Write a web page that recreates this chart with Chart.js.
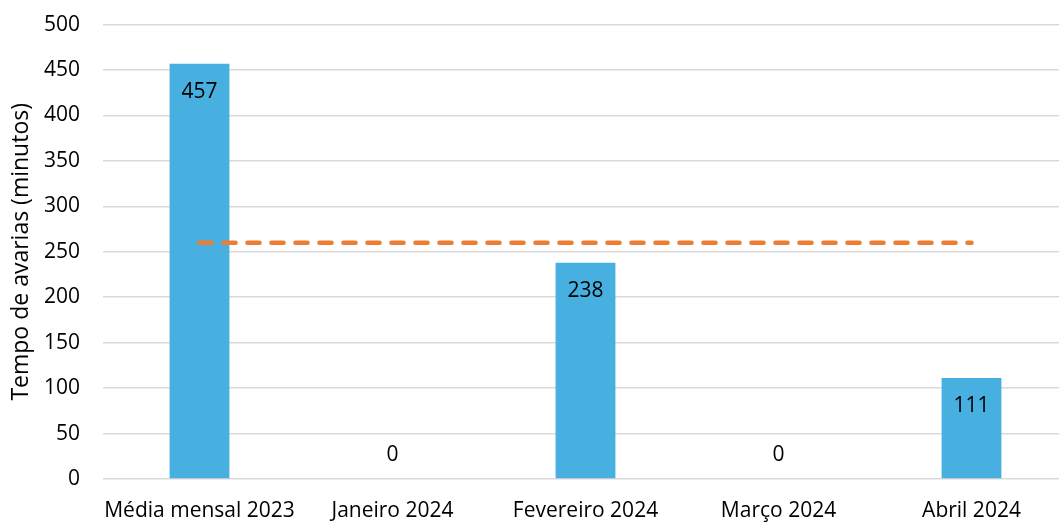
<!DOCTYPE html>
<html>
<head>
<meta charset="utf-8">
<script src="https://cdn.jsdelivr.net/npm/chart.js@4.4.1/dist/chart.umd.min.js"></script>
<style>
  body { margin: 0; overflow: hidden; background: #fff; }
  #wrap { width: 1072px; height: 533px; margin-top: -11px; }
</style>
</head>
<body>
<div id="wrap"><canvas id="myChart"></canvas></div>
<script>
const categories = ["Média mensal 2023", "Janeiro 2024", "Fevereiro 2024", "Março 2024", "Abril 2024"];
const tempo = [457, 0, 238, 0, 111];
const meta = [260, 260, 260, 260, 260];
const yTicks = [0, 50, 100, 150, 200, 250, 300, 350, 400, 450, 500];

const family = "'Open Sans', 'Noto Sans', sans-serif";
const font = { family: family, size: 21 };

// labels dentro das barras (ou acima do eixo quando for zero)
const valueLabels = {
  id: "valueLabels",
  afterDatasetsDraw(chart) {
    const ctx = chart.ctx;
    const m = chart.getDatasetMeta(1);
    ctx.save();
    ctx.font = font.size + "px " + font.family;
    ctx.fillStyle = "#000";
    ctx.textAlign = "center";
    ctx.textBaseline = "middle";
    m.data.forEach(function (bar, i) {
      const v = tempo[i];
      let y = v > 0 ? bar.y + 28 : bar.base - 24;
      ctx.fillText(String(v), bar.x, y);
    });
    ctx.restore();
  }
};

const ctx = document.getElementById("myChart").getContext("2d");
const myChart = new Chart(ctx, {
  type: "bar",
  data: {
    labels: categories,
    datasets: [
      {
        type: "line",
        label: "Meta",
        data: meta,
        borderColor: "#ED7D31",
        borderWidth: 4.5,
        borderDash: [12, 12],
        borderCapStyle: "round",
        pointRadius: 0,
        order: 0,
      },
      {
        label: "Tempo de avarias",
        data: tempo,
        backgroundColor: "#47B0E0",
        categoryPercentage: 1,
        barPercentage: 0.31,
        order: 1,
      },
    ],
  },
  options: {
    responsive: true,
    maintainAspectRatio: false,
    animation: false,
    layout: { padding: { top: 12, right: 4, left: 0, bottom: 0 } },
    plugins: {
      legend: { display: false },
      tooltip: { enabled: false },
    },
    scales: {
      x: {
        grid: { display: false, drawTicks: false },
        border: { display: false },
        ticks: { color: "#000", font: font, padding: 19, maxRotation: 0, autoSkip: false },
        afterFit(scale) { scale.height = 43; },
      },
      y: {
        min: 0,
        max: 500,
        afterBuildTicks(scale) { scale.ticks = yTicks.map(v => ({ value: v })); },
        grid: { color: "#D9D9D9", lineWidth: 1.5, drawTicks: false },
        border: { display: false },
        ticks: { color: "#000", font: font, padding: 23 },
        title: {
          display: true,
          text: "Tempo de avarias (minutos)",
          color: "#000",
          font: { family: family, size: 23 },
          padding: { top: 8, bottom: 0 },
        },
        afterFit(scale) { scale.width = 103; },
      },
    },
  },
  plugins: [valueLabels],
});
</script>
</body>
</html>
